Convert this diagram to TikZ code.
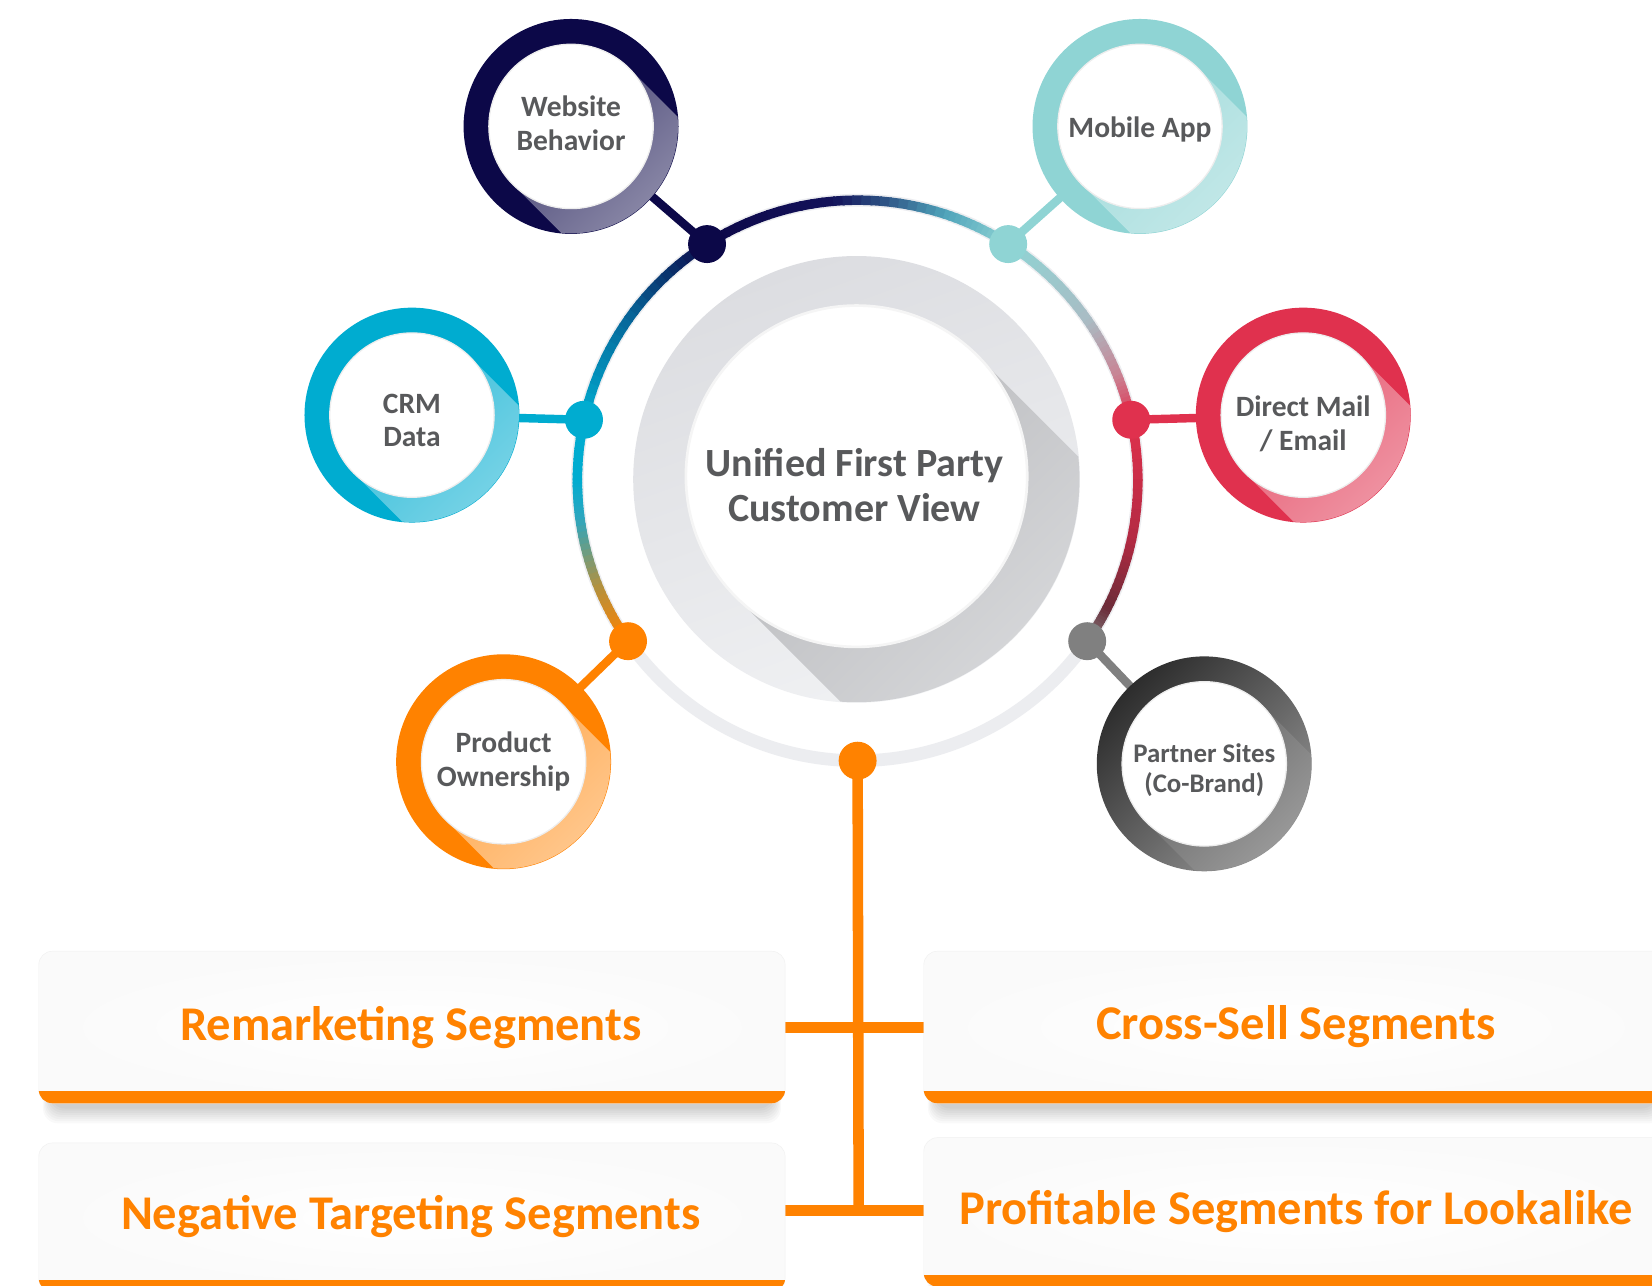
\documentclass[tikz,border=0pt]{standalone}
\usepackage{fontspec}
\setmainfont{Carlito}
\usetikzlibrary{calc,backgrounds}
\definecolor{cNavy}{HTML}{0C0848}
\definecolor{cMob}{HTML}{8FD4D4}
\definecolor{cCyan}{HTML}{00ACD0}
\definecolor{cRed}{HTML}{E0314E}
\definecolor{cOr}{HTML}{FF8200}
\definecolor{cGr}{HTML}{808080}
\definecolor{cTxt}{HTML}{58595B}
\definecolor{cRing}{HTML}{ECEDF0}
\definecolor{cOl}{HTML}{B8903A}
\definecolor{cTl}{HTML}{2EA6BE}
\definecolor{cBl}{HTML}{06679A}
\definecolor{cNvb}{HTML}{13125A}
\definecolor{cTm}{HTML}{4FA3BA}
\definecolor{cGy}{HTML}{A9BCC4}
\definecolor{cPk}{HTML}{C98394}
\definecolor{cDr}{HTML}{B32A42}
\definecolor{cMr}{HTML}{6B2B38}
\definecolor{cHubA}{HTML}{DCDDE1}
\definecolor{cHubB}{HTML}{F0F1F3}
\definecolor{cShA}{HTML}{BBBCBF}
\definecolor{cShB}{HTML}{ECEDEF}
\definecolor{cPtA}{HTML}{2D2D2D}
\definecolor{cPtB}{HTML}{929292}
\definecolor{cPsA}{HTML}{6A6A6A}
\definecolor{cPsB}{HTML}{CFCFCF}

\tikzset{
  mydot/.style={circle, inner sep=0pt, minimum size=36pt},
  conn/.style={line width=8pt},
  trunk/.style={cOr, line width=10pt},
  segt/.style={text=cOr, font={\fontsize{46}{50}\selectfont\bfseries}, inner sep=0pt, anchor=base},
  titlet/.style={text=cTxt, align=center, font={\fontsize{38}{42}\selectfont\bfseries}, inner sep=0pt},
  satf/.style={font={\fontsize{28}{32}\selectfont\bfseries}},
  satfs/.style={font={\fontsize{25.5}{29}\selectfont\bfseries}},
}

% name, position, ring fill, shadow near, shadow far, font style, text, text y offset
\newcommand\mysat[8]{%
  \node[circle, inner sep=0pt, minimum size=204pt, #3] (#1) at (#2) {};
  \begin{scope}
    \clip (#1.center) circle (101.5);
    \shade[top color=#4, bottom color=#5, shading angle=45]
      ($(#1.center)+(45:78)$) -- ($(#1.center)+(45:78)+(-45:230)$) --
      ($(#1.center)+(225:78)+(-45:230)$) -- ($(#1.center)+(225:78)$) -- cycle;
  \end{scope}
  \node[circle, inner sep=0pt, minimum size=156pt, fill=white, draw=black!7,
        line width=1.2pt] (#1-in) at (#1.center) {};
  \node[text=cTxt, align=center, inner sep=0pt, #6] (#1-t) at ($(#1.center)+(0,#8)$) {#7};
}

\newcommand\segbox[4]{%
  \node[inner sep=0pt, minimum width=#3pt, minimum height=#4pt] (#1) at (#2) {};
  \foreach \k in {1,...,8}{
    \fill[black, opacity=0.022, rounded corners=14pt]
      ($(#1.north west)+(12-\k,-30)$) rectangle ($(#1.south east)+(-12+\k,-3-2*\k)$);
  }
  \shade[inner color=white, outer color=black!2, draw=black!6, rounded corners=13pt]
    (#1.north west) rectangle (#1.south east);
  \begin{scope}
    \clip ($(#1.south west)+(-2,11)$) rectangle ($(#1.south east)+(2,-2)$);
    \fill[cOr, rounded corners=13pt] (#1.north west) rectangle (#1.south east);
  \end{scope}
}

\begin{document}
\begin{tikzpicture}[x=1pt, y=1pt]
\useasboundingbox (0,0) rectangle (1568,-1220.6);
\begin{pgfonlayer}{background}
  \fill[white] (0,0) rectangle (1568,-1220.6);
\end{pgfonlayer}

% main ring
\coordinate (C) at (814,-456);
\draw[cRing, line width=12pt] (C) circle (266);
\foreach \a/\b/\ca/\cb in {215/203/cOr/cOl, 203/188/cOl/cTl, 188/180/cTl/cCyan,
   180/167.5/cCyan/cCyan, 167.5/145/cCyan/cBl, 145/122.5/cBl/cNavy,
   122.5/95/cNavy/cNvb, 95/72/cNvb/cTm, 72/57.5/cTm/cMob, 57.5/35/cMob/cGy,
   35/22/cGy/cPk, 22/12.5/cPk/cRed, 12.5/-12/cRed/cDr, -12/-27/cDr/cMr, -27/-35/cMr/cGr}{
  \foreach \i in {0,...,11}{
    \pgfmathsetmacro\aa{\a+(\b-\a)*\i/12}
    \pgfmathsetmacro\bb{\a+(\b-\a)*(\i+1)/12-0.4}
    \pgfmathtruncatemacro\pp{100*(\i+0.5)/12}
    \colorlet{tmpc}{\cb!\pp!\ca}
    \draw[tmpc, line width=9pt] ($(C)+(\aa:266)$) arc[start angle=\aa, end angle=\bb, radius=266];
  }
}

% hub
\node[circle, inner sep=0pt, minimum size=424pt, top color=cHubA, bottom color=cHubB, shading angle=20] (hub) at (813,-455) {};
\coordinate (HC) at (813,-452);
\begin{scope}
  \clip (hub.center) circle (211.5);
  \shade[top color=cShA, bottom color=cShB, shading angle=45]
    ($(HC)+(45:162)$) -- ($(HC)+(45:162)+(-45:420)$) --
    ($(HC)+(225:162)+(-45:420)$) -- ($(HC)+(225:162)$) -- cycle;
\end{scope}
\node[circle, inner sep=0pt, minimum size=324pt, fill=white, draw=black!4, line width=2.5pt] (hubin) at (HC) {};
\node[titlet] (title) at (811,-460.5) {Unified First Party\\Customer View};

% satellites
\mysat{web}{542,-120}{fill=cNavy}{cNavy!72!white}{cNavy!22!white}{satf}{Website\\Behavior}{3}
\mysat{mob}{1082,-120}{fill=cMob}{cMob!78!white}{cMob!30!white}{satf}{Mobile App}{-3}
\mysat{crm}{391,-394}{fill=cCyan}{cCyan!75!white}{cCyan!30!white}{satf}{CRM\\Data}{-5}
\mysat{dm}{1237,-394}{fill=cRed}{cRed!75!white}{cRed!28!white}{satf}{Direct Mail\\/ Email}{-8}
\mysat{prod}{478,-723}{fill=cOr}{cOr!66!white}{cOr!22!white}{satf}{Product\\Ownership}{0}
\mysat{part}{1143,-725}{top color=cPtA, bottom color=cPtB, shading angle=45}{cPsA}{cPsB}{satfs}{Partner Sites\\(Co-Brand)}{-6}

% dots
\node[mydot, fill=cNavy] (webdot) at ($(C)+(122.5:266)$) {};
\node[mydot, fill=cMob] (mobdot) at ($(C)+(57.5:266)$) {};
\node[mydot, fill=cCyan] (crmdot) at ($(C)+(167.5:266)$) {};
\node[mydot, fill=cRed] (dmdot) at ($(C)+(12.5:266)$) {};
\node[mydot, fill=cOr] (proddot) at ($(C)+(215:266)$) {};
\node[mydot, fill=cGr] (partdot) at ($(C)+(-35:266)$) {};
\node[mydot, fill=cOr] (botdot) at ($(C)+(-90:266)$) {};

% segment boxes
\segbox{remb}{391,-975}{708}{144}
\segbox{crossb}{1230,-975}{706}{144}
\segbox{negb}{391,-1155.5}{708}{141}
\segbox{profb}{1230,-1150.5}{706}{141}

\node[segt] (remt) at (390,-988) {Remarketing Segments};
\node[segt] (crosst) at (1230,-987) {Cross-Sell Segments};
\node[segt] (negt) at (390,-1167) {Negative Targeting Segments};
\node[segt] (proft) at (1230,-1162) {Profitable Segments for Lookalike};

\coordinate (j2) at (815,-1149);

% connectors
\begin{pgfonlayer}{background}
  \draw[conn, cNavy] (web.center) -- (webdot.center);
  \draw[conn, cMob] (mob.center) -- (mobdot.center);
  \draw[conn, cCyan] (crm.center) -- (crmdot.center);
  \draw[conn, cRed] (dm.center) -- (dmdot.center);
  \draw[conn, cOr] (prod.center) -- (proddot.center);
  \draw[conn, cGr] (part.center) -- (partdot.center);
  \draw[trunk] (botdot.center) -- (j2);
  \draw[trunk] (remb.east) -- (crossb.west);
  \draw[trunk] (negb.east |- j2) -- (profb.west |- j2);
\end{pgfonlayer}
\end{tikzpicture}
\end{document}
